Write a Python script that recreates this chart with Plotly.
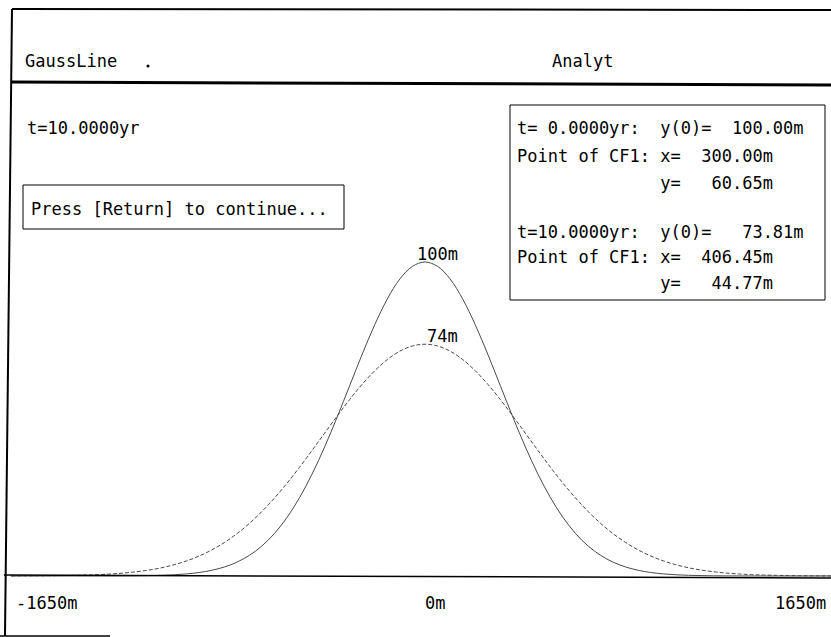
import plotly.graph_objects as go

# ---------------- data ----------------
x_m = [-1650, -1600, -1550, -1500, -1450, -1400, -1350, -1300, -1250, -1200, -1150,
       -1100, -1050, -1000, -950, -900, -850, -800, -750, -700, -650, -600, -550,
       -500, -450, -400, -350, -300, -250, -200, -150, -100, -50, 0,
       50, 100, 150, 200, 250, 300, 350, 400, 450, 500, 550, 600, 650, 700, 750,
       800, 850, 900, 950, 1000, 1050, 1100, 1150, 1200, 1250, 1300, 1350, 1400,
       1450, 1500, 1550, 1600, 1650]

y_t0 = [0.00, 0.00, 0.00, 0.00, 0.00, 0.00, 0.00, 0.01, 0.02, 0.03, 0.06,
        0.12, 0.22, 0.39, 0.66, 1.11, 1.81, 2.86, 4.39, 6.57, 9.56, 13.53, 18.63,
        24.94, 32.47, 41.11, 50.63, 60.65, 70.67, 80.07, 88.25, 94.60, 98.62, 100.00,
        98.62, 94.60, 88.25, 80.07, 70.67, 60.65, 50.63, 41.11, 32.47, 24.94, 18.63,
        13.53, 9.56, 6.57, 4.39, 2.86, 1.81, 1.11, 0.66, 0.39, 0.22, 0.12, 0.06,
        0.03, 0.02, 0.01, 0.00, 0.00, 0.00, 0.00, 0.00, 0.00, 0.00]

y_t10 = [0.02, 0.03, 0.05, 0.08, 0.13, 0.20, 0.30, 0.44, 0.65, 0.94, 1.35,
         1.89, 2.62, 3.58, 4.81, 6.36, 8.29, 10.64, 13.45, 16.75, 20.55, 24.83, 29.55,
         34.63, 39.99, 45.48, 50.94, 56.21, 61.09, 65.39, 68.95, 71.61, 73.25, 73.81,
         73.25, 71.61, 68.95, 65.39, 61.09, 56.21, 50.94, 45.48, 39.99, 34.63, 29.55,
         24.83, 20.55, 16.75, 13.45, 10.64, 8.29, 6.36, 4.81, 3.58, 2.62, 1.89, 1.35,
         0.94, 0.65, 0.44, 0.30, 0.20, 0.13, 0.08, 0.05, 0.03, 0.02]

tick_values = [-1650, 0, 1650]
tick_labels = ["-1650m", "0m", "1650m"]

times = ["0.0000", "10.0000"]
y0_values = ["100.00", "73.81"]
infl_x = ["300.00", "406.45"]
infl_y = ["60.65", "44.77"]

W, H = 831, 637
FONT = dict(family="DejaVu Sans Mono", size=17, color="black")
NB = "\u00a0"
X_RANGE = [-1693.8, 1618.1]


def px(x):
    return x / W


def py(y):
    return 1 - y / H


fig = go.Figure()
fig.add_trace(go.Scatter(x=x_m, y=y_t0, mode="lines", line_shape="spline",
                         line=dict(color="#4a4a4a", width=1), hoverinfo="skip"))
fig.add_trace(go.Scatter(x=x_m, y=y_t10, mode="lines", line_shape="spline",
                         line=dict(color="#4a4a4a", width=1, dash="4px,2px"),
                         hoverinfo="skip"))

shapes = []


def line(x0, y0, x1, y1, w=1.5):
    shapes.append(dict(type="line", xref="paper", yref="paper",
                       x0=px(x0), y0=py(y0), x1=px(x1), y1=py(y1),
                       line=dict(color="black", width=w)))


def rect(x0, y0, x1, y1, w=1):
    shapes.append(dict(type="rect", xref="paper", yref="paper",
                       x0=px(x0), y0=py(y0), x1=px(x1), y1=py(y1),
                       line=dict(color="black", width=w)))


line(12, 9, 831, 10, 2)        # top frame
line(12, 82, 831, 85, 3)       # header separator
line(12, 9, 5, 636, 2)         # left frame
line(0, 636, 110, 636, 1.5)    # bottom frame (partial)
line(4, 575, 831, 578, 1.5)    # baseline
rect(23, 185, 344, 229)        # press box
rect(510, 105, 825, 300)       # info box
shapes.append(dict(type="circle", xref="paper", yref="paper",
                   x0=px(146.5), y0=py(64.5), x1=px(149.5), y1=py(67.5),
                   fillcolor="black", line=dict(width=0)))

annotations = []


def text(s, x, y, anchor="left"):
    annotations.append(dict(text=s.replace(" ", NB), xref="paper", yref="paper",
                            x=px(x), y=py(y), xanchor=anchor, yanchor="middle",
                            showarrow=False, font=FONT))


text("GaussLine", 23, 61)
text("Analyt", 550, 61)
text("t=10.0000yr", 25, 128)
text("Press [Return] to continue...", 29, 209)

rows_y = [[128, 156, 183], [232, 257, 283]]
for i in range(2):
    tlabel = ("t=" + times[i].rjust(7) + "yr:").ljust(14)
    text(tlabel + "y(0)=" + y0_values[i].rjust(8) + "m", 515, rows_y[i][0])
    text("Point of CF1: x=" + infl_x[i].rjust(8) + "m", 515, rows_y[i][1])
    text(" " * 14 + "y=" + infl_y[i].rjust(8) + "m", 515, rows_y[i][2])

# peak labels
for ys in (y_t0, y_t10):
    peak = max(ys)
    xi = x_m[ys.index(peak)]
    annotations.append(dict(text=f"{round(peak)}m", x=xi, y=peak, xref="x", yref="y",
                            xanchor="right", yanchor="middle", xshift=35, yshift=8,
                            showarrow=False, font=FONT))

# x tick labels (placed through the axis scale, converted to paper fraction)
anchors = ["left", "left", "right"]
shifts = [3, -2, -11]
for v, lab, a, s in zip(tick_values, tick_labels, anchors, shifts):
    frac = (v - X_RANGE[0]) / (X_RANGE[1] - X_RANGE[0])
    annotations.append(dict(text=lab, x=frac, y=py(603), xref="paper", yref="paper",
                            xanchor=a, yanchor="middle", xshift=s,
                            showarrow=False, font=FONT))

fig.update_layout(
    width=W, height=H,
    margin=dict(l=0, r=0, t=0, b=0),
    paper_bgcolor="white", plot_bgcolor="white",
    showlegend=False,
    xaxis=dict(range=X_RANGE, visible=False, fixedrange=True),
    yaxis=dict(range=[-19.43, 183.44], visible=False, fixedrange=True),
    shapes=shapes, annotations=annotations,
)

fig.write_html("out.html", config={"displayModeBar": False},
               post_script="document.body.style.margin='0';"
                           "document.body.style.overflow='hidden';")
